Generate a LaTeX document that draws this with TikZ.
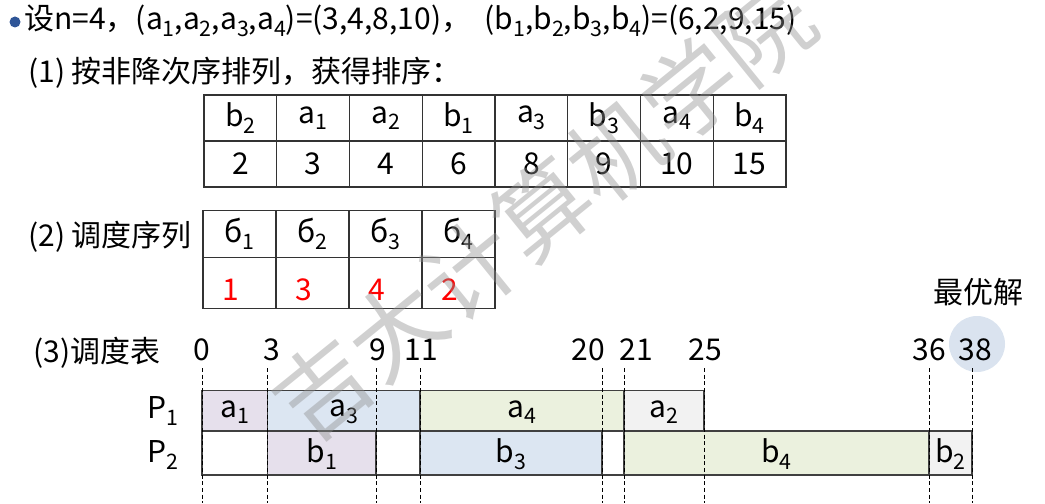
\documentclass[tikz,border=0pt]{standalone}
\usepackage{fontspec}
\setmainfont{Noto Sans CJK SC}
\definecolor{DotBlue}{RGB}{47, 85, 151}
\definecolor{Lilac}{RGB}{230, 224, 236}
\definecolor{PaleBlue}{RGB}{220, 230, 242}
\definecolor{PaleGreen}{RGB}{235, 241, 222}
\definecolor{PaleGray}{RGB}{242, 242, 242}
\definecolor{Ring}{RGB}{218, 227, 239}
\definecolor{Edge}{RGB}{64, 64, 64}
\definecolor{Stamp}{RGB}{143, 143, 143}
\usetikzlibrary{positioning}
\newcommand{\sbs}[1]{\raisebox{-0.4ex}{\fontsize{16pt}{16pt}\selectfont #1}}

\begin{document}
\begin{tikzpicture}[x=0.75pt, y=-0.75pt,
        txt/.style={inner sep=0pt, font=\fontsize{22.5pt}{26pt}\selectfont},
        cell/.style={draw=black!80, line width=1pt, minimum width=54.56pt, minimum height=34.5pt, inner sep=0pt, font=\fontsize{22.5pt}{26pt}\selectfont},
        bar/.style={draw=Edge, line width=0.8pt},
        guide/.style={densely dashed, line width=0.7pt}
    ]
        \useasboundingbox (0,0) rectangle (1045,503);

        % (1) sorted list
        \fill[DotBlue] (15,22) circle (5.5);
        \node[txt, anchor=west] (given) at (24,21) {设n=4，(a\sbs{1},a\sbs{2},a\sbs{3},a\sbs{4})=(3,4,8,10)，\ \ (b\sbs{1},b\sbs{2},b\sbs{3},b\sbs{4})=(6,2,9,15)};
        \node[txt, anchor=west] (sorted) at (28,73) {(1) 按非降次序排列，获得排序：};
        \foreach \hd/\val [count=\i] in {b\sbs{2}/2, a\sbs{1}/3, a\sbs{2}/4, b\sbs{1}/6, a\sbs{3}/8, b\sbs{3}/9, a\sbs{4}/10, b\sbs{4}/15} {
            \node[cell] (key\i) at (204+72.75*\i-36.375, 118) {\hd};
            \node[cell] (num\i) at (204+72.75*\i-36.375, 164) {\val};
        }

        % (2) job order
        \node[txt, anchor=west] (order) at (28,237) {(2) 调度序列};
        \foreach \pos [count=\i] in {1,3,4,2} {
            \node[cell, minimum width=54.75pt, minimum height=35pt] (slot\i) at (203+73*\i-36.5, 234) {б\sbs{\i}};
            \node[cell, minimum width=54.75pt, minimum height=38.5pt] (job\i) at (203+73*\i-36.5, 283) {};
            \path (job\i.center) ++(-8.5,7) node[txt, text=red] (pick\i) {\pos};
        }

        % (3) schedule
        \node[txt, anchor=west] (chart) at (33,353) {(3)调度表};
        \fill[Ring] (977,344) circle (28);
        \node[txt] (best) at (978,292) {最优解};
        \foreach \l/\r/\c in {202/267.5/Lilac, 267.5/420/PaleBlue, 420/624/PaleGreen, 624/704/PaleGray}
            \draw[bar, fill=\c] (\l,390.5) rectangle (\r,431);
        \foreach \l/\r/\c in {202/267.5/white, 267.5/376/Lilac, 376/420/white, 420/602/PaleBlue, 602/624/white, 624/929/PaleGreen, 929/972/PaleGray}
            \draw[bar, fill=\c] (\l,431) rectangle (\r,475);
        \foreach \t/\x/\lx in {0/202/202, 3/267.5/272, 9/376/378, 11/420/421, 20/602/588, 21/624/636, 25/704/705, 36/929/929, 38/972/975} {
            \node[txt] (tick\t) at (\lx,350) {\t};
            \draw[guide] (\x,368) -- (\x,503);
        }
        \node[txt] (p1) at (163,411) {P\sbs{1}};
        \node[txt] (p2) at (163,455) {P\sbs{2}};
        \node[txt] (ja1) at (234.75,412) {a\sbs{1}};
        \node[txt] (ja3) at (343.75,412) {a\sbs{3}};
        \node[txt] (ja4) at (522,412) {a\sbs{4}};
        \node[txt] (ja2) at (664,412) {a\sbs{2}};
        \node[txt] (jb1) at (321.75,454) {b\sbs{1}};
        \node[txt] (jb3) at (511,454) {b\sbs{3}};
        \node[txt] (jb4) at (776.5,454) {b\sbs{4}};
        \node[txt] (jb2) at (950.5,454) {b\sbs{2}};

        % watermark
        \node[rotate=39, text=Stamp, text opacity=0.42, inner sep=0pt, font=\fontsize{71pt}{71pt}\selectfont] (mark) at (543,210) {吉大计算机学院};
    \end{tikzpicture}
\end{document}
